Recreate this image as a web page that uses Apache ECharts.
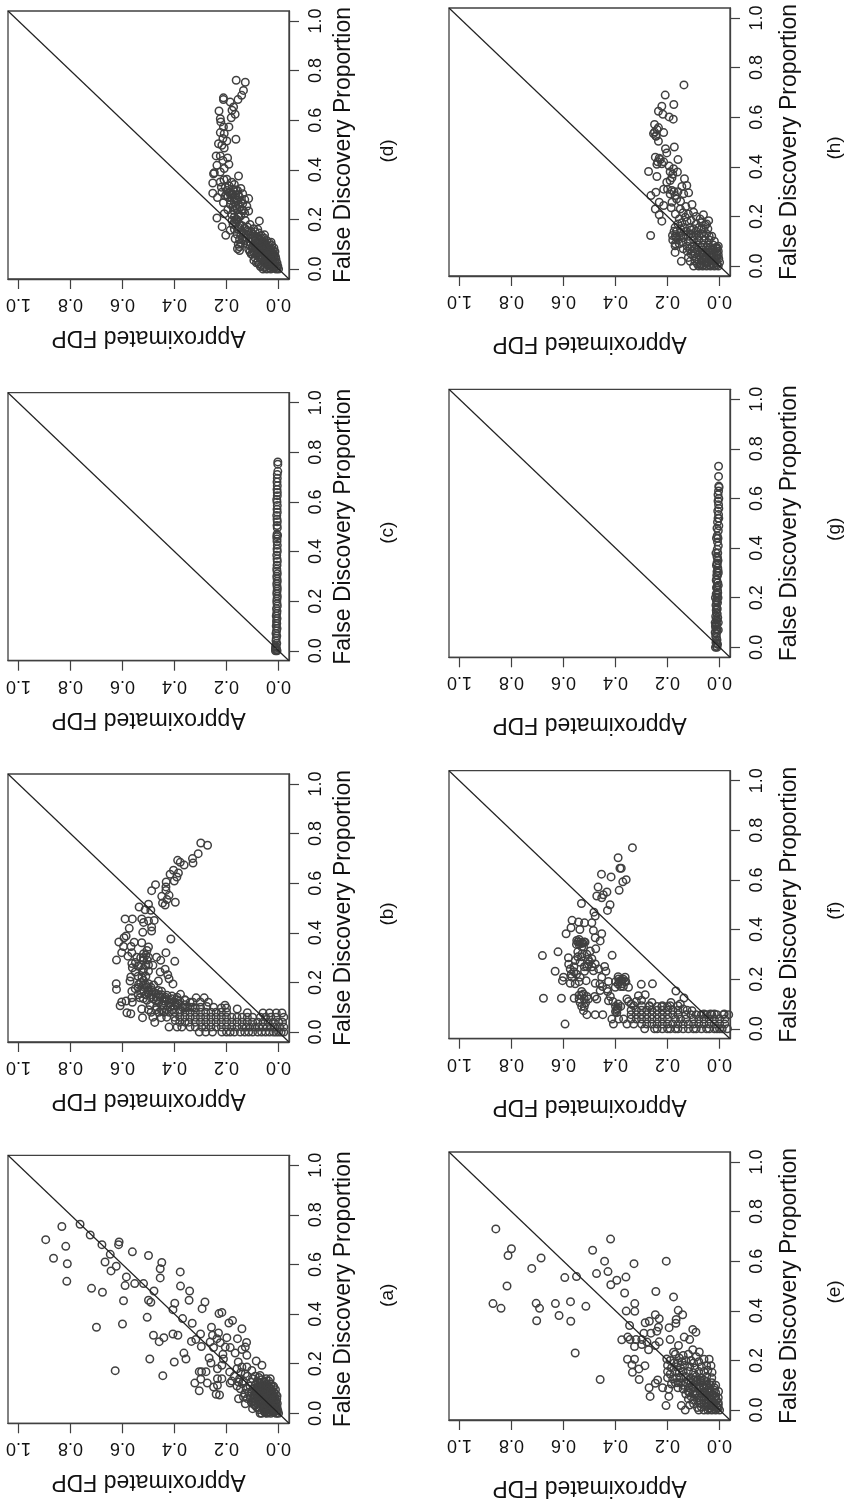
<!DOCTYPE html>
<html><head><meta charset="utf-8">
<style>html,body{margin:0;padding:0;background:#fff}#c{width:849px;height:1501px}</style>
<script src="https://cdn.jsdelivr.net/npm/echarts@6/dist/echarts.min.js"></script>
</head><body><div id="c"></div>
<script>
const tickValues=[0,.2,.4,.6,.8,1];
const panelNames=["(a)","(b)","(c)","(d)","(e)","(f)","(g)","(h)"];
const xTitle="Approximated FDP";
const yTitle="False Discovery Proportion";
const diagonal=[[-.04,-.04],[1.04,1.04]];
// each point: [approximated FDP, false discovery proportion]
const pointsA=[[.895,.7],[.833,.753],[.763,.762],[.865,.625],[.818,.673],[.812,.603],[.814,.532],[.724,.719],[.679,.68],[.647,.641],[.613,.691],[.615,.68],[.562,.651],[.667,.61],[.624,.593],[.644,.574],[.5,.636],[.449,.608],[.455,.583],[.455,.546],[.585,.55],[.59,.515],[.553,.523],[.519,.523],[.719,.504],[.677,.488],[.479,.493],[.378,.57],[.377,.513],[.342,.493],[.344,.456],[.596,.454],[.5,.456],[.491,.448],[.399,.444],[.406,.418],[.283,.449],[.294,.422],[.229,.402],[.218,.407],[.505,.387],[.369,.382],[.332,.363],[.191,.364],[.177,.374],[.6,.36],[.7,.347],[.258,.347],[.141,.341],[.481,.315],[.459,.289],[.441,.305],[.406,.32],[.387,.315],[.3,.32],[.335,.29],[.318,.298],[.231,.324],[.254,.315],[.237,.301],[.199,.305],[.158,.301],[.123,.286],[.263,.288],[.224,.285],[.297,.269],[.25,.265],[.205,.267],[.186,.265],[.141,.257],[.128,.267],[.167,.243],[.122,.234],[.364,.243],[.356,.219],[.495,.219],[.401,.207],[.267,.223],[.26,.203],[.214,.238],[.212,.219],[.218,.194],[.235,.18],[.628,.172],[.445,.152],[.305,.168],[.296,.168],[.279,.168],[.322,.122],[.299,.138],[.274,.122],[.305,.091],[.25,.106],[.235,.14],[.218,.14],[.235,.113],[.24,.077],[.227,.074],[.188,.167],[.186,.122],[.155,.207],[.086,.211],[.064,.194],[.141,.187],[.122,.187],[.103,.173],[.128,.16],[.154,.126],[.147,.099],[.154,.059],[.135,.066],[.128,.039],[.1,.019],[.071,0],[.032,.14],[.019,.109],[.071,.153],
[0,0],[.005,.002],[.01,0],[.008,.01],[.012,.02],[.003,.012],[.018,.004],[.02,.014],[.015,.03],[.006,.025],[.01,.04],[.025,.01],[.03,0],[.028,.022],[.022,.035],[.012,.05],[.02,.05],[.005,.04],[.007,.058],[.015,.065],[.035,.005],[.04,.018],[.033,.03],[.028,.045],[.022,.062],[.012,.078],[.006,.07],[.045,0],[.05,.012],[.043,.028],[.038,.042],[.032,.056],[.027,.07],[.018,.085],[.012,.095],[.055,.006],[.06,.02],[.052,.035],[.046,.05],[.04,.065],[.034,.08],[.026,.095],[.02,.105],[.065,0],[.07,.03],[.063,.045],[.056,.06],[.05,.075],[.044,.09],[.036,.105],[.03,.118],[.075,.015],[.08,.04],[.072,.055],[.066,.07],[.06,.085],[.052,.1],[.046,.115],[.038,.13],[.085,.025],[.09,.05],[.082,.065],[.076,.08],[.07,.095],[.062,.11],[.056,.125],[.048,.14],[.095,.035],[.1,.06],[.092,.075],[.086,.09],[.08,.105],[.072,.12],[.066,.135],[.105,.045],[.11,.07],[.102,.085],[.096,.1],[.09,.115],[.082,.13],[.076,.145],[.12,.06],[.115,.085],[.125,.1],[.11,.11],[.105,.125],[.1,.14],[.09,.15],[.13,.08],[.14,.12],[.15,.14],[.135,.13],[.12,.15],[.16,.11],[.17,.15],[.145,.165],[.16,.18],[.18,.13],
[.015,.012],[.024,.026],[.032,.012],[.018,.042],[.036,.024],[.028,.034],[.016,.056],[.042,.034],[.034,.048],[.024,.054],[.048,.022],[.042,.05],[.03,.064],[.02,.074],[.058,.03],[.05,.044],[.044,.058],[.036,.072],[.028,.082],[.066,.04],[.06,.052],[.054,.066],[.046,.08],[.04,.094],[.032,.1],[.076,.048],[.07,.06],[.062,.076],[.056,.09],[.05,.104],[.042,.116],[.086,.058],[.08,.07],[.072,.086],[.066,.1],[.06,.112],[.054,.13],[.096,.07],[.088,.082],[.082,.098],[.074,.11],[.068,.124],[.02,.022],[.01,.03],[.04,.006],[.05,.002],[.058,.012],[.08,.024],[.09,.034],[.1,.05]];
const pointsB=[[.299,.762],[.273,.753],[.309,.719],[.331,.699],[.329,.681],[.388,.692],[.378,.684],[.363,.673],[.404,.652],[.417,.636],[.385,.641],[.391,.625],[.401,.609],[.432,.605],[.433,.585],[.433,.571],[.473,.594],[.488,.57],[.421,.551],[.449,.547],[.429,.534],[.446,.52],[.436,.512],[.397,.523],[.536,.504],[.5,.515],[.513,.493],[.491,.491],[.59,.456],[.562,.456],[.526,.456],[.519,.442],[.5,.448],[.478,.45],[.574,.418],[.488,.423],[.488,.407],[.522,.402],[.586,.387],[.594,.38],[.614,.363],[.596,.345],[.555,.362],[.567,.345],[.526,.36],[.5,.343],[.414,.375],[.603,.32],[.579,.306],[.564,.32],[.545,.302],[.519,.316],[.506,.329],[.433,.32],[.469,.302],[.453,.289],[.623,.29],[.399,.285],[.564,.276],[.519,.289],[.5,.302],[.483,.269],[.562,.259],[.519,.255],[.5,.246],[.551,.242],[.455,.242],[.436,.253],[.426,.231],[.421,.215],[.568,.222],[.571,.206],[.624,.195],[.623,.172],[.406,.194],[.519,.208],[.5,.195],[.462,.206],[.538,.192],[.551,.175],[.564,.165],[.486,.168],[.462,.168],[.519,.168],[.533,.138],[.564,.138],[.586,.125],[.603,.121],[.609,.106],[.562,.12],[.506,.128],[.481,.134],[.455,.141],[.429,.148],[.41,.134],[.377,.152],[.359,.128],[.317,.138],[.286,.138],[.301,.121],[.276,.103],[.206,.108],[.159,.093],[.583,.078],[.568,.074],[.526,.093],[.523,.058],[.483,.06],[.476,.039],[.451,.058],[.494,.108],[.469,.101],[.442,.108],[.417,.101],[.391,.108],
[.505,.18],[.49,.15],[.47,.125],[.45,.165],[.44,.125],[.42,.13],[.4,.12],[.38,.125],[.36,.11],[.34,.12],[.33,.1],[.3,.1],[.52,.135],[.54,.15],[.53,.17],[.51,.225],[.5,.27],[.52,.24],[.54,.225],[.53,.3],[.55,.28],[.51,.19],[.49,.18],[.5,.16],[.51,.15],[.48,.19],[.47,.155],[.45,.15],[.46,.12],[.435,.14],[.42,.115],[.4,.105],[.385,.115],[.37,.1],[.35,.1],[.39,.14],[.41,.145],[.53,.2],[.525,.22],[.51,.27],[.505,.29],[.54,.265],[.53,.27],[.52,.3],[.51,.31],
[-.02,0],[-.01,0],[0,0],[.01,0],[.02,0],[.035,0],[.05,0],[.065,0],[.08,0],[.1,0],[.115,0],[.13,0],[.147,0],[.17,0],[.186,0],[.2,0],[.218,0],[.254,0],[.28,0],[.305,0],
[-.02,.02],[-.005,.02],[.015,.02],[.03,.02],[.045,.02],[.06,.02],[.075,.02],[.09,.02],[.11,.02],[.125,.02],[.14,.02],[.16,.02],[.18,.02],[.2,.02],[.22,.02],[.24,.02],[.26,.02],[.28,.02],[.295,.02],[.32,.02],[.34,.02],[.372,.02],[.39,.02],[.421,.02],
[-.015,.04],[0,.04],[.02,.04],[.04,.04],[.06,.04],[.08,.04],[.1,.04],[.12,.04],[.14,.04],[.16,.04],[.18,.04],[.2,.04],[.22,.04],[.24,.04],[.26,.04],[.28,.04],[.3,.04],[.32,.04],[.345,.04],[.36,.04],[.38,.04],[.397,.047],
[-.02,.06],[.01,.06],[.03,.06],[.05,.06],[.07,.06],[.1,.06],[.12,.06],[.14,.06],[.16,.06],[.18,.06],[.2,.06],[.22,.06],[.24,.06],[.26,.06],[.28,.06],[.3,.06],[.32,.06],[.34,.06],[.36,.06],[.38,.06],[.4,.06],[.43,.06],
[-.013,.077],[.009,.077],[.035,.077],[.06,.077],[.12,.078],[.2,.08],[.22,.08],[.24,.08],[.26,.08],[.28,.08],[.3,.08],[.32,.08],[.34,.08],[.36,.08],[.38,.08],[.4,.08],[.42,.08],[.44,.08],[.46,.08],[.49,.08],
[.2,.097],[.22,.097],[.25,.1],[.32,.097],[.34,.1],[.36,.097],[.38,.09],[.41,.09],[.43,.09],[.45,.09],[.47,.09],[.5,.09],
[.27,.12],[.33,.12],[.36,.13],[.39,.13],[.41,.12],[.44,.135],[.47,.14],[.49,.14],[.51,.15],[.53,.155],[.45,.11],[.43,.13],[.46,.15],[.48,.16],[.5,.17],[.52,.19],[.54,.18]];
const pointsC=[[.003,.761],[.003,.752],[.003,.723],[.005,.71],[.005,.695],[.006,.68],[.005,.665],[.006,.65],[.005,.638],[.005,.625],[.007,.61],[.006,.6],[.005,.585],[.006,.57],[.005,.558],[.007,.545],[.006,.53],[.005,.52],[.006,.505],[.005,.495],[.006,.47],[.004,.465],[.007,.46],[.006,.45],[.006,.44],[.005,.425],[.006,.41],[.005,.4],[.007,.385],[.006,.37],[.005,.36],[.006,.345],[.007,.33],[.006,.32],[.005,.31],[.007,.3],[.006,.29],[.005,.28],[.007,.27],[.006,.26],[.005,.25],[.006,.24],[.007,.23],[.005,.22],[.006,.21],[.007,.2],[.006,.19],[.005,.18],[.008,.17],[.006,.16],[.007,.15],[.009,.14],[.006,.13],[.008,.12],[.007,.11],[.009,.1],[.006,.09],[.008,.08],[.01,.07],[.007,.06],[.009,.05],[.01,.04],[.007,.03],[.011,.02],[.009,.015],[.012,.01],[.008,.005],[.012,0],[.006,0],[.01,.003]];
const pointsD=[[.163,.761],[.128,.753],[.135,.72],[.142,.7],[.156,.683],[.212,.69],[.212,.683],[.186,.673],[.173,.653],[.179,.64],[.167,.624],[.182,.61],[.229,.637],[.224,.606],[.222,.593],[.212,.573],[.191,.573],[.224,.55],[.209,.546],[.164,.523],[.214,.526],[.199,.516],[.231,.505],[.218,.499],[.209,.488],[.24,.456],[.224,.456],[.196,.448],[.214,.438],[.237,.418],[.191,.422],[.209,.405],[.247,.388],[.25,.384],[.224,.391],[.154,.375],[.253,.347],[.224,.351],[.199,.362],[.17,.341],[.253,.306],[.235,.288],[.218,.31],[.199,.317],[.179,.304],[.158,.317],[.138,.304],[.115,.284],[.212,.267],[.186,.277],[.16,.277],[.138,.263],[.122,.253],[.115,.234],[.195,.239],[.173,.237],[.237,.206],[.209,.223],[.217,.171],[.203,.136],[.179,.196],[.154,.21],[.128,.196],[.074,.194],[.186,.156],[.167,.122],[.158,.082],[.15,.075],[.096,.163],[.054,.138],[.029,.108],
[.205,.33],[.19,.335],[.175,.32],[.165,.3],[.145,.325],[.205,.295],[.195,.29],[.18,.285],[.17,.27],[.15,.29],[.13,.28],[.165,.255],[.15,.25],[.135,.235],[.18,.22],[.17,.21],[.16,.2],[.145,.215],[.13,.225],[.175,.18],[.165,.185],[.15,.18],[.14,.175],[.17,.16],[.155,.16],[.14,.15],[.12,.17],[.11,.18],[.16,.14],[.15,.12],[.135,.13],[.145,.105],[.125,.14],[.155,.1],[.15,.09],[.22,.33],[.18,.35],[.21,.36],
[0,0],[.005,.003],[.01,0],[.008,.01],[.012,.02],[.003,.012],[.018,.004],[.02,.014],[.015,.03],[.006,.025],[.01,.04],[.025,.008],[.03,0],[.028,.02],[.022,.035],[.012,.05],[.02,.05],[.035,.005],[.04,.015],[.033,.03],[.028,.045],[.022,.062],[.014,.07],[.045,0],[.05,.01],[.043,.028],[.038,.042],[.032,.056],[.027,.07],[.018,.085],[.055,.006],[.06,0],[.052,.03],[.046,.05],[.04,.065],[.034,.08],[.026,.095],[.065,.015],[.07,.01],[.063,.04],[.056,.06],[.05,.075],[.044,.09],[.036,.105],[.075,.02],[.08,.03],[.072,.05],[.066,.07],[.06,.085],[.052,.1],[.046,.115],[.085,.025],[.09,.045],[.082,.065],[.076,.08],[.07,.095],[.062,.11],[.056,.125],[.095,.035],[.1,.06],[.092,.075],[.086,.09],[.08,.105],[.072,.12],[.066,.135],[.105,.06],[.11,.07],[.102,.085],[.096,.1],[.09,.115],[.082,.13],[.076,.145],[.115,.08],[.11,.11],[.105,.125],[.1,.14],[.09,.15],[.13,.115],[.12,.1],[.14,.12],[.118,.135],[.105,.15],[.08,.16],
[.015,.012],[.024,.026],[.032,.012],[.018,.042],[.036,.024],[.028,.034],[.016,.056],[.042,.034],[.034,.048],[.024,.054],[.048,.022],[.042,.05],[.03,.064],[.02,.074],[.058,.03],[.05,.044],[.044,.058],[.036,.072],[.028,.082],[.066,.04],[.06,.052],[.054,.066],[.046,.08],[.04,.094],[.076,.048],[.07,.06],[.062,.076],[.056,.09],[.05,.104],[.086,.058],[.08,.07],[.072,.086],[.066,.1],[.06,.112],[.096,.07],[.088,.082],[.082,.098],[.074,.11],[.068,.124],[.1,.09],[.11,.095],[.1,.115],[.09,.13],[.125,.125],[.115,.15],[.135,.145],[.13,.165],[.12,.155],[.145,.14],[.155,.17],[.165,.2],[.17,.19],[.155,.22],[.14,.24],[.16,.24],[.175,.25],[.155,.26],[.145,.27],[.165,.285],[.155,.3],[.175,.3],[.19,.31],[.165,.32],[.2,.3],[.185,.26],[.185,.3]];
const pointsE=[[.86,.73],[.8,.65],[.813,.623],[.686,.613],[.722,.571],[.488,.644],[.419,.689],[.442,.6],[.329,.59],[.205,.6],[.473,.55],[.429,.558],[.55,.538],[.595,.534],[.36,.536],[.395,.523],[.418,.505],[.817,.5],[.365,.472],[.245,.478],[.177,.456],[.871,.429],[.84,.41],[.705,.43],[.692,.41],[.631,.429],[.573,.437],[.514,.418],[.617,.381],[.703,.36],[.572,.358],[.326,.429],[.359,.399],[.326,.398],[.159,.402],[.142,.384],[.247,.384],[.232,.368],[.167,.365],[.168,.35],[.286,.352],[.27,.358],[.346,.341],[.235,.334],[.194,.332],[.241,.318],[.264,.31],[.291,.31],[.103,.325],[.091,.314],[.136,.294],[.115,.284],[.19,.284],[.232,.275],[.353,.294],[.376,.283],[.344,.284],[.321,.284],[.299,.284],[.279,.274],[.327,.256],[.299,.264],[.273,.243],[.247,.26],[.555,.23],[.354,.205],[.327,.205],[.337,.183],[.335,.152],[.31,.166],[.287,.179],[.309,.123],[.459,.123],[.238,.121],[.247,.108],[.271,.09],[.267,.055],[.219,.09],[.196,.085],[.195,.055],[.206,.018],[.147,.018],[.132,0],[.203,.206],[.177,.233],[.158,.26],[.103,.243],[.078,.234],[.04,.205],[.033,.179],[.029,.152],[.004,.075],
[.17,.225],[.155,.21],[.14,.22],[.12,.225],[.09,.215],[.06,.205],[.19,.2],[.175,.19],[.16,.19],[.145,.195],[.13,.2],[.11,.2],[.1,.19],[.08,.195],[.2,.18],[.185,.17],[.165,.175],[.15,.17],[.135,.18],[.115,.175],[.095,.17],[.07,.175],[.05,.18],[.2,.155],[.19,.145],[.17,.155],[.155,.15],[.14,.155],[.12,.155],[.1,.15],[.08,.155],[.06,.155],[.045,.16],[.2,.13],[.18,.125],[.165,.13],[.15,.13],[.13,.135],[.11,.13],[.09,.135],[.07,.13],[.05,.135],[.03,.13],[.185,.105],[.17,.11],[.15,.11],[.13,.11],[.11,.11],[.09,.115],[.07,.11],[.05,.115],[.03,.11],[.015,.1],[.16,.09],[.14,.085],[.12,.09],[.1,.09],[.08,.09],[.06,.09],[.04,.09],[.02,.09],[.13,.065],[.115,.07],[.095,.065],[.075,.07],[.055,.07],[.035,.07],[.015,.07],[.12,.045],[.1,.04],[.08,.05],[.06,.05],[.04,.05],[.02,.05],[.005,.05],[.115,.02],[.1,.025],[.08,.03],[.06,.03],[.04,.03],[.02,.03],[.005,.03],[.085,.01],[.07,.012],[.05,.015],[.03,.015],[.01,.015],[.08,0],[.06,0],[.045,0],[.03,0],[.015,0],[0,0],[.005,.008],[.02,.006],[.04,.006],[.005,.02],[.012,.04],[.025,.06],[.045,.08],[.065,.1],[.085,.12],
[.01,.008],[.025,.022],[.035,.008],[.05,.025],[.03,.04],[.015,.055],[.045,.04],[.07,.025],[.06,.04],[.05,.06],[.03,.06],[.02,.08],[.04,.075],[.06,.075],[.085,.04],[.09,.06],[.07,.055],[.05,.1],[.035,.1],[.075,.09],[.1,.075],[.11,.055],[.105,.095],[.09,.1],[.12,.075],[.14,.1],[.16,.11],[.12,.12],[.1,.12],[.075,.12],[.06,.12]];
const pointsF=[[.335,.73],[.39,.689],[.383,.647],[.378,.647],[.454,.623],[.417,.612],[.359,.601],[.372,.592],[.386,.558],[.467,.571],[.433,.551],[.447,.54],[.472,.535],[.453,.528],[.421,.5],[.431,.477],[.531,.505],[.483,.47],[.478,.454],[.567,.437],[.571,.407],[.542,.43],[.519,.427],[.491,.427],[.537,.4],[.485,.396],[.453,.383],[.59,.383],[.478,.367],[.459,.354],[.549,.356],[.536,.349],[.517,.349],[.523,.329],[.476,.322],[.497,.313],[.529,.302],[.621,.31],[.681,.295],[.413,.296],[.581,.286],[.555,.275],[.536,.268],[.491,.282],[.504,.261],[.478,.261],[.442,.251],[.574,.241],[.632,.232],[.519,.232],[.485,.234],[.465,.241],[.437,.232],[.6,.208],[.604,.194],[.568,.208],[.574,.183],[.555,.181],[.536,.208],[.513,.194],[.478,.183],[.453,.208],[.427,.191],[.388,.201],[.363,.208],[.376,.181],[.35,.167],[.301,.179],[.258,.181],[.459,.154],[.433,.16],[.401,.167],[.168,.152],[.677,.123],[.608,.123],[.559,.123],[.523,.14],[.536,.106],[.504,.12],[.472,.12],[.427,.113],[.395,.08],[.356,.12],[.312,.133],[.286,.137],[.137,.124],[.151,.1],[.187,.106],[.222,.089],[.26,.106],[.523,.073],[.51,.057],[.478,.057],[.449,.057],[.594,.019],[.414,.039],[.408,.019],[.388,.039],[.369,.039],[.356,.019],[.106,.073],
[.39,.21],[.38,.195],[.37,.2],[.36,.19],[.39,.18],[.37,.17],[.545,.29],[.53,.33],[.54,.36],[.55,.34],[.52,.35],[.51,.3],[.56,.25],[.58,.26],[.55,.22],[.505,.28],[.53,.15],[.52,.12],[.51,.13],[.54,.12],[.53,.09],[.52,.09],[.42,.13],[.41,.11],[.4,.09],[.39,.1],[.395,.065],[.4,.07],[.38,.09],[.43,.15],[.45,.17],[.46,.18],[.48,.13],[.35,.11],[.34,.1],[.32,.11],[.3,.115],[.27,.09],[.24,.09],[.2,.09],[.545,.35],[.53,.345],[.54,.34],[.525,.345],[.53,.29],[.545,.31],[.5,.27],[.51,.25],[.52,.25],[.49,.25],[.56,.23],[.57,.22],[.54,.19],[.53,.135],[.54,.135],[.515,.105],[.4,.19],[.385,.19],[.375,.195],[.365,.19],[.38,.17],[.395,.075],[.39,.085],
[.288,0],[.25,0],[.24,0],[.22,0],[.2,0],[.19,0],[.17,0],[.16,0],[.14,0],[.12,0],[.1,0],[.09,0],[.07,0],[.05,0],[.04,0],[.02,0],[.01,0],[0,0],[-.01,0],[-.03,0],
[.33,.019],[.3,.019],[.28,.019],[.26,.019],[.24,.019],[.22,.019],[.2,.019],[.18,.019],[.16,.019],[.14,.019],[.12,.019],[.1,.019],[.08,.019],[.06,.019],[.04,.019],[.02,.019],[0,.019],[-.02,.019],
[.34,.039],[.32,.039],[.3,.039],[.28,.039],[.26,.039],[.24,.039],[.22,.039],[.2,.039],[.17,.039],[.15,.039],[.13,.039],[.1,.039],[.08,.039],[.06,.039],[.04,.039],[.02,.039],[0,.039],[-.02,.039],
[.34,.057],[.32,.057],[.3,.057],[.28,.057],[.26,.057],[.24,.057],[.22,.057],[.2,.057],[.18,.057],[.16,.057],[.13,.057],[.11,.057],[.09,.057],[.07,.057],[.05,.057],[.03,.057],[.01,.057],[-.015,.057],[-.035,.057],
[.34,.075],[.32,.075],[.3,.075],[.28,.075],[.26,.075],[.24,.075],[.22,.075],[.2,.075],[.18,.075],[.16,.075],[.125,.075],[.06,.06],[.035,.06],[.02,.06],[-.018,.06],
[.33,.093],[.3,.093],[.27,.093],[.22,.093],[.19,.093],[.16,.093],[.14,.08]];
const pointsG=[[.004,.73],[.004,.689],[.003,.65],[.002,.645],[.004,.63],[.006,.615],[.003,.6],[.006,.59],[.004,.575],[.003,.56],[.007,.55],[.004,.535],[.003,.52],[.008,.505],[.003,.49],[.005,.47],[.009,.45],[.006,.44],[.008,.425],[.005,.41],[.009,.395],[.007,.38],[.01,.365],[.006,.35],[.009,.335],[.007,.32],[.01,.305],[.008,.29],[.011,.275],[.007,.26],[.01,.245],[.008,.23],[.013,.215],[.009,.2],[.011,.185],[.014,.17],[.009,.155],[.012,.14],[.015,.125],[.01,.11],[.013,.095],[.016,.085],[.01,.07],[.012,.055],[.015,.045],[.01,.03],[.014,.02],[.008,.012],[.012,.005],[.016,0],[.01,0],[.013,.15],[.006,.2],[.017,.1],[.005,.1],[.007,.12],[.016,.2],[.005,.25],[.013,.27],[.005,.3],[.012,.33],[.014,.38],[.012,.44],[.01,.48],[.006,.52],[.005,.07],[.017,.06],[.008,.36],[.01,.34],[.006,.31],[.011,.29],[.009,.26],[.012,.24],[.007,.22],[.01,.21],[.012,.19],[.008,.18],[.011,.16],[.009,.135],[.013,.115],[.011,.09],[.014,.075],[.012,.04],[.01,.015]];
const pointsH=[[.137,.73],[.209,.689],[.176,.651],[.222,.644],[.235,.624],[.218,.612],[.194,.601],[.178,.592],[.25,.571],[.235,.558],[.215,.538],[.254,.534],[.244,.523],[.235,.503],[.208,.473],[.174,.48],[.203,.456],[.247,.439],[.228,.429],[.16,.429],[.241,.41],[.222,.412],[.194,.403],[.273,.381],[.241,.361],[.177,.392],[.162,.379],[.183,.356],[.203,.338],[.135,.352],[.215,.31],[.145,.321],[.126,.325],[.245,.298],[.264,.284],[.183,.305],[.171,.284],[.119,.295],[.138,.291],[.232,.257],[.183,.257],[.215,.244],[.247,.23],[.232,.207],[.186,.235],[.222,.181],[.265,.123],[.106,.248],[.151,.23],[.062,.207],[.042,.183],[.132,.197],[.1,.217],[.171,.156],[.181,.123],[.171,.082],[.171,.055],[.147,.019],[.1,0],[.113,.019],[.01,.075],
[.25,.54],[.24,.55],[.245,.525],[.238,.42],[.232,.435],[.215,.42],[.19,.38],[.18,.37],[.19,.345],[.16,.3],[.2,.31],[.19,.29],[.175,.3],[.165,.27],[.15,.26],[.13,.24],[.17,.21],[.155,.19],[.14,.215],[.12,.21],[.09,.2],[.075,.19],[.16,.17],[.145,.175],[.125,.18],[.11,.185],[.09,.17],[.07,.175],[.05,.17],[.175,.14],[.165,.14],[.15,.15],[.135,.155],[.115,.155],[.1,.15],[.08,.155],[.06,.15],[.045,.15],[.18,.105],[.165,.115],[.15,.12],[.13,.125],[.11,.13],[.09,.125],[.07,.13],[.05,.13],[.03,.12],[.17,.09],[.155,.09],[.14,.095],[.12,.1],[.1,.105],[.08,.105],[.06,.105],[.04,.105],[.02,.1],[.14,.07],[.125,.08],[.105,.08],[.085,.085],[.065,.085],[.045,.085],[.025,.085],[.005,.08],[.125,.06],[.105,.06],[.085,.065],[.065,.065],[.045,.065],[.025,.065],[.005,.06],[.12,.035],[.1,.04],[.08,.045],[.06,.045],[.04,.045],[.02,.045],[.005,.045],[.095,.02],[.08,.025],[.06,.025],[.04,.025],[.02,.025],[.003,.03],[.085,.008],[.07,.01],[.05,.01],[.03,.01],[.01,.012],[.08,0],[.065,0],[.05,0],[.035,0],[.02,0],[.005,0],[0,.015],[.075,.005],[.055,.035],[.035,.035],[.015,.035],[.075,.055],[.055,.055],[.035,.075],[.015,.075],
[.01,.005],[.025,.006],[.04,.005],[.06,.005],[.012,.022],[.03,.02],[.05,.018],[.07,.02],[.01,.04],[.03,.042],[.05,.036],[.07,.035],[.09,.03],[.01,.055],[.03,.055],[.045,.055],[.065,.052],[.095,.05],[.11,.05],[.01,.07],[.03,.07],[.05,.075],[.07,.075],[.095,.07],[.115,.07],[.16,.105],[.14,.115],[.12,.12],[.1,.12],[.08,.12],[.06,.12],[.04,.12],[.17,.12],[.15,.135],[.13,.14],[.11,.145],[.09,.14],[.07,.15],[.055,.165]];
const panelPoints=[pointsA,pointsB,pointsC,pointsD,pointsE,pointsF,pointsG,pointsH];

const boxLeft=[8,8,8,8,449,449,449,449];
const boxTop=[1155.3,774,392.7,11,1152,770.7,389.3,8];
const xTitleGap=[47,47,47,47,56,56,56,56];
const yTitleGap=[43,43,43,43,48,48,48,48];
const captionX=[388,388,388,388,835,835,835,835];
const boxW=281,boxH=268;
const ink='#404040',textInk='#111',font='"Liberation Sans",Arial,sans-serif';
const grid=[],xAxis=[],yAxis=[],series=[],graphic=[];
panelPoints.forEach((pts,i)=>{
  grid.push({left:boxLeft[i],top:boxTop[i],width:boxW,height:boxH,show:true,borderColor:ink,borderWidth:1.3,containLabel:false});
  xAxis.push({gridIndex:i,type:'value',inverse:true,min:-.04,max:1.04,position:'bottom',
    splitLine:{show:false},axisLine:{show:true,onZero:false,lineStyle:{color:ink,width:1.3}},
    axisTick:{show:true,length:10,customValues:tickValues,lineStyle:{color:ink,width:1.2}},
    axisLabel:{rotate:180,margin:16,fontSize:18,color:textInk,fontFamily:font,customValues:tickValues,formatter:v=>v.toFixed(1)},
    name:xTitle,nameLocation:'middle',nameRotate:180,nameGap:xTitleGap[i],nameTextStyle:{fontSize:23,color:textInk,fontFamily:font}});
  yAxis.push({gridIndex:i,type:'value',min:-.04,max:1.04,position:'right',
    splitLine:{show:false},axisLine:{show:true,onZero:false,lineStyle:{color:ink,width:1.3}},
    axisTick:{show:true,length:10,customValues:tickValues,lineStyle:{color:ink,width:1.2}},
    axisLabel:{rotate:90,margin:18,fontSize:18,color:textInk,fontFamily:font,customValues:tickValues,formatter:v=>v.toFixed(1)},
    name:yTitle,nameLocation:'middle',nameRotate:90,nameGap:yTitleGap[i],nameTextStyle:{fontSize:23,color:textInk,fontFamily:font}});
  series.push({type:'scatter',xAxisIndex:i,yAxisIndex:i,data:pts,symbol:'circle',symbolSize:7.5,silent:true,animation:false,
    itemStyle:{color:'rgba(0,0,0,0)',borderColor:ink,borderWidth:1.5,opacity:1}});
  series.push({type:'line',xAxisIndex:i,yAxisIndex:i,data:diagonal,symbol:'none',silent:true,animation:false,z:3,
    lineStyle:{color:'#222',width:1.2}});
  graphic.push({type:'text',x:captionX[i],y:boxTop[i]+boxH/2+6,rotation:Math.PI/2,
    style:{text:panelNames[i],font:'19px '+font,fill:textInk,textAlign:'center',textVerticalAlign:'middle'}});
});
const chart=echarts.init(document.getElementById('c'),null,{renderer:'canvas'});
chart.setOption({animation:false,backgroundColor:'#fff',grid,xAxis,yAxis,series,graphic});
</script></body></html>
